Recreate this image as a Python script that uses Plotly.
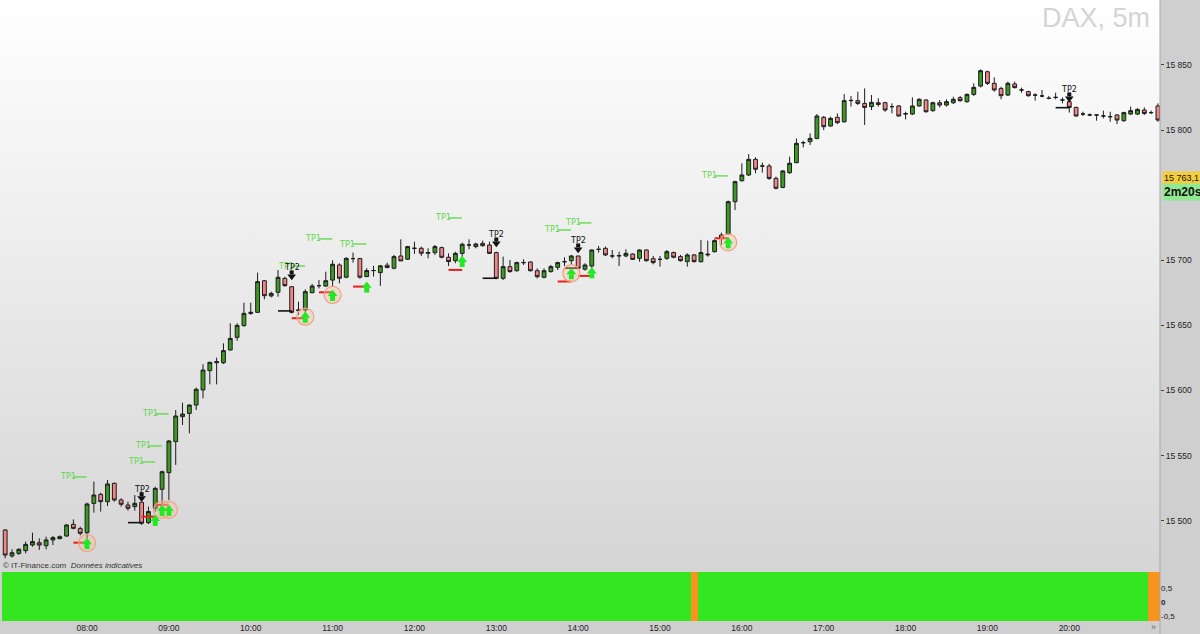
import base64
import plotly.graph_objects as go

# ---------------- data ----------------
opens = [15492.8, 15472.9, 15474.9, 15477.0, 15481.3, 15483.1, 15480.8, 15485.2, 15486.2, 15488.2,
         15497.2, 15493.9, 15490.8, 15513.3, 15520.2, 15514.6, 15528.7, 15515.9, 15512.0, 15510.8,
         15514.1, 15498.5, 15509.5, 15524.1, 15536.9, 15560.7, 15579.9, 15582.4, 15588.8, 15600.4,
         15615.2, 15621.3, 15621.3, 15631.1, 15640.8, 15649.8, 15659.2, 15660.0, 15684.3, 15672.6,
         15675.4, 15686.1, 15679.7, 15661.3, 15661.8, 15675.1, 15680.5, 15680.2, 15684.8, 15696.4,
         15687.0, 15701.3, 15701.3, 15687.5, 15692.1, 15690.5, 15696.2, 15693.9, 15703.3, 15700.8,
         15709.2, 15709.2, 15705.4, 15705.9, 15709.7, 15702.3, 15699.7, 15705.3, 15711.7, 15710.5,
         15713.0, 15711.7, 15705.9, 15686.1, 15695.1, 15692.0, 15698.2, 15698.7, 15692.0, 15686.9,
         15691.3, 15694.6, 15698.9, 15699.7, 15703.3, 15693.1, 15695.6, 15708.4, 15709.2, 15703.3,
         15703.3, 15703.3, 15704.8, 15701.5, 15707.9, 15701.2, 15700.7, 15701.5, 15705.9, 15702.8,
         15699.0, 15704.1, 15698.9, 15704.1, 15706.6, 15719.4, 15720.2, 15745.0, 15761.1, 15765.5,
         15777.5, 15772.4, 15772.4, 15762.9, 15756.0, 15767.3, 15775.0, 15790.3, 15791.1, 15793.6,
         15809.8, 15803.1, 15809.8, 15806.4, 15822.6, 15822.6, 15820.5, 15818.0, 15821.0, 15821.0,
         15818.0, 15818.5, 15812.3, 15812.3, 15818.5, 15823.1, 15814.9, 15821.0, 15819.2, 15821.0,
         15824.9, 15821.8, 15827.4, 15833.8, 15844.8, 15835.9, 15832.0, 15826.9, 15835.4, 15830.8,
         15829.5, 15826.9, 15826.2, 15824.4, 15825.1, 15823.1, 15821.8, 15817.4, 15812.3, 15811.6,
         15811.6, 15810.8, 15810.3, 15811.6, 15807.2, 15812.3, 15812.3, 15815.4, 15813.4, 15818.5]

highs = [15493.5, 15478.0, 15478.8, 15483.9, 15490.8, 15486.4, 15487.7, 15488.2, 15488.7, 15497.2,
         15501.0, 15495.4, 15513.8, 15530.0, 15521.5, 15531.2, 15529.2, 15517.2, 15514.6, 15519.7,
         15514.1, 15510.8, 15526.1, 15538.4, 15562.0, 15585.0, 15590.6, 15589.4, 15602.2, 15620.1,
         15622.1, 15625.2, 15636.2, 15651.6, 15651.6, 15667.4, 15667.4, 15690.5, 15684.8, 15675.9,
         15692.5, 15687.4, 15680.2, 15668.2, 15677.7, 15681.8, 15684.8, 15691.2, 15700.0, 15697.7,
         15702.3, 15705.9, 15701.8, 15693.9, 15695.7, 15696.4, 15698.2, 15704.1, 15716.1, 15711.0,
         15714.3, 15710.5, 15709.2, 15711.7, 15710.5, 15705.3, 15706.6, 15713.5, 15716.1, 15713.5,
         15715.1, 15714.3, 15706.6, 15702.8, 15700.2, 15699.0, 15700.7, 15699.0, 15693.8, 15693.8,
         15696.4, 15698.9, 15702.3, 15704.1, 15703.3, 15697.7, 15708.4, 15711.0, 15710.5, 15707.9,
         15706.6, 15708.4, 15705.3, 15708.4, 15708.4, 15703.3, 15703.3, 15707.9, 15706.6, 15704.1,
         15705.3, 15704.8, 15715.6, 15715.1, 15716.1, 15721.2, 15745.8, 15761.1, 15774.5, 15781.6,
         15779.1, 15775.0, 15774.0, 15764.2, 15769.3, 15779.6, 15793.6, 15791.8, 15797.5, 15812.3,
         15810.8, 15810.3, 15812.8, 15827.7, 15826.2, 15829.5, 15832.0, 15826.9, 15824.4, 15821.8,
         15820.5, 15819.2, 15814.1, 15825.1, 15824.4, 15823.6, 15821.8, 15823.1, 15823.6, 15825.6,
         15826.2, 15828.2, 15835.9, 15846.6, 15845.6, 15840.5, 15833.3, 15837.2, 15837.2, 15832.6,
         15830.2, 15828.2, 15830.8, 15826.2, 15828.7, 15825.1, 15823.6, 15817.9, 15814.1, 15812.8,
         15812.3, 15814.9, 15814.1, 15812.3, 15814.1, 15818.0, 15816.7, 15817.4, 15814.9, 15820.5]

lows = [15471.1, 15471.6, 15473.6, 15474.9, 15480.0, 15477.5, 15478.0, 15481.3, 15485.7, 15487.7,
        15493.4, 15488.7, 15486.4, 15506.2, 15507.0, 15511.3, 15514.6, 15510.8, 15507.7, 15507.7,
        15496.7, 15497.4, 15506.9, 15509.5, 15515.9, 15542.8, 15573.5, 15567.1, 15585.0, 15594.0,
        15604.7, 15604.7, 15620.3, 15630.6, 15638.2, 15649.0, 15658.0, 15659.7, 15670.0, 15671.5,
        15672.0, 15679.7, 15659.2, 15658.0, 15659.2, 15674.6, 15678.4, 15679.7, 15679.7, 15682.3,
        15686.2, 15698.2, 15685.9, 15687.0, 15687.5, 15680.3, 15693.9, 15693.1, 15699.5, 15700.3,
        15704.9, 15703.3, 15701.5, 15704.1, 15701.5, 15695.6, 15697.7, 15696.4, 15708.4, 15709.2,
        15710.5, 15704.8, 15685.4, 15684.9, 15690.5, 15691.3, 15696.4, 15691.3, 15686.1, 15686.1,
        15690.5, 15692.5, 15695.6, 15696.4, 15693.1, 15692.0, 15693.8, 15705.9, 15703.3, 15701.5,
        15695.6, 15702.3, 15700.2, 15698.9, 15698.9, 15696.9, 15695.1, 15700.2, 15701.5, 15698.9,
        15695.1, 15698.2, 15698.4, 15702.8, 15705.9, 15711.7, 15719.4, 15738.6, 15760.4, 15764.7,
        15766.8, 15767.3, 15761.7, 15754.5, 15755.3, 15766.3, 15774.4, 15786.7, 15788.5, 15792.9,
        15800.0, 15802.6, 15804.6, 15805.7, 15818.0, 15819.2, 15803.9, 15815.4, 15818.0, 15814.1,
        15812.8, 15810.3, 15808.2, 15811.6, 15818.0, 15813.4, 15814.1, 15817.4, 15818.0, 15820.0,
        15821.8, 15821.0, 15826.2, 15832.8, 15834.6, 15829.5, 15823.6, 15826.2, 15832.0, 15828.7,
        15825.6, 15822.6, 15825.1, 15823.6, 15823.6, 15820.5, 15813.4, 15810.3, 15810.8, 15810.8,
        15807.2, 15809.0, 15806.4, 15804.6, 15806.4, 15811.6, 15811.6, 15811.6, 15812.3, 15806.4]

closes = [15473.6, 15475.4, 15478.0, 15481.8, 15483.9, 15481.3, 15485.2, 15487.0, 15487.7, 15496.7,
          15494.1, 15490.3, 15512.8, 15519.7, 15514.6, 15528.2, 15515.9, 15512.6, 15509.5, 15513.3,
          15498.0, 15507.0, 15524.8, 15537.6, 15561.2, 15580.4, 15581.9, 15588.8, 15600.9, 15615.7,
          15621.6, 15622.1, 15630.6, 15640.0, 15650.0, 15659.2, 15660.0, 15683.6, 15672.8, 15674.6,
          15686.9, 15680.5, 15660.0, 15661.8, 15675.9, 15680.2, 15680.5, 15684.3, 15696.9, 15686.2,
          15701.5, 15701.3, 15687.0, 15692.1, 15692.1, 15695.7, 15694.4, 15702.8, 15699.5, 15710.5,
          15709.2, 15705.4, 15705.9, 15710.5, 15702.3, 15699.0, 15705.3, 15712.3, 15711.7, 15712.5,
          15711.2, 15705.3, 15686.1, 15695.1, 15691.3, 15698.2, 15698.2, 15692.0, 15687.4, 15692.0,
          15695.1, 15698.2, 15698.9, 15703.3, 15693.8, 15696.4, 15707.9, 15708.4, 15704.1, 15703.3,
          15703.6, 15705.3, 15700.7, 15707.9, 15699.7, 15698.2, 15700.7, 15706.6, 15702.3, 15699.7,
          15704.1, 15699.0, 15705.9, 15704.6, 15715.1, 15716.9, 15745.0, 15760.4, 15765.5, 15777.5,
          15769.9, 15772.4, 15762.9, 15755.3, 15768.6, 15774.5, 15789.8, 15790.3, 15793.6, 15810.8,
          15802.6, 15809.0, 15805.7, 15822.6, 15822.8, 15820.5, 15817.4, 15821.3, 15819.7, 15815.4,
          15818.0, 15810.8, 15812.6, 15818.5, 15823.6, 15814.1, 15821.0, 15819.2, 15821.8, 15823.6,
          15822.6, 15827.4, 15832.8, 15845.6, 15835.9, 15830.8, 15826.4, 15835.9, 15832.6, 15830.8,
          15826.4, 15826.9, 15826.2, 15824.4, 15825.1, 15823.1, 15817.4, 15810.8, 15812.3, 15811.6,
          15811.6, 15810.8, 15810.3, 15807.7, 15813.4, 15814.9, 15815.9, 15812.8, 15813.4, 15807.7]

hour_idx = [12, 24, 36, 48, 60, 72, 84, 96, 108, 120, 132, 144, 156]
hour_labels = ["08:00", "09:00", "10:00", "11:00", "12:00", "13:00", "14:00",
               "15:00", "16:00", "17:00", "18:00", "19:00", "20:00"]
# 15 750 is hidden behind the timer label in the reference
price_ticks = [15500, 15550, 15600, 15650, 15700, 15800, 15850]
price_tick_labels = ["15 500", "15 550", "15 600", "15 650", "15 700", "15 800", "15 850"]

tp1_idx = [8, 18, 19, 20, 40, 44, 49, 63, 79, 82, 102]
tp1_price = [15533.6, 15545.1, 15557.4, 15582.0, 15695.6, 15716.4, 15712.5, 15732.5, 15723.3, 15728.7, 15764.8]

tp2_idx = [20, 42, 72, 84, 156]
tp2_price = [15514.6, 15684.9, 15710.2, 15705.6, 15821.6]
tp2_base_price = [15498.5, 15661.1, 15686.2, 15694.0, 15817.2]

buy_idx = [12, 22, 23, 24, 44, 48, 53, 67, 83, 86, 106]
buy_price = [15486.7, 15504.4, 15512.1, 15512.1, 15660.5, 15677.2, 15683.6, 15703.3, 15693.9, 15694.6, 15717.6]
stop_idx = [12, 22, 24, 44, 48, 53, 67, 83, 86, 106]
stop_price = [15483.1, 15503.1, 15512.1, 15655.5, 15675.4, 15679.8, 15692.6, 15683.7, 15688.0, 15716.9]
circled_idx = [12, 23, 24, 44, 48, 83, 106]

orange_idx = [101, 168, 169]
last_price = 15763.1
timer_text = "2m20s"

# ---------------- geometry ----------------
n = len(opens)
idx = list(range(n))
Y_MIN, Y_MAX = 15469.8, 15899.9
MAIN_PX = 560.0
ppx = (Y_MAX - Y_MIN) / MAIN_PX  # price per pixel
plot_h = 621.0

fig = go.Figure()

# smooth vertical gradient (white -> light grey) behind the main panel
svg = ('<svg xmlns="http://www.w3.org/2000/svg" width="100" height="572" preserveAspectRatio="none">'
       '<defs><linearGradient id="g" x1="0" y1="0" x2="0" y2="1">'
       '<stop offset="0" stop-color="#ffffff"/><stop offset="1" stop-color="#d5d5d5"/>'
       '</linearGradient></defs><rect x="0" y="0" width="100" height="572" fill="url(#g)"/></svg>')
svg_uri = "data:image/svg+xml;base64," + base64.b64encode(svg.encode()).decode()
fig.add_layout_image(dict(source=svg_uri, xref="paper", yref="paper", x=0, y=1,
                          sizex=1, sizey=572.0 / plot_h, sizing="stretch",
                          xanchor="left", yanchor="top", layer="below"))

# bottom panel
colors = ["#f7941d" if i in orange_idx else "#34e61f" for i in idx]
fig.add_trace(go.Bar(x=idx, y=[2.4] * n, base=-1.2, marker=dict(color=colors, line=dict(width=0)),
                     width=1.0, xaxis="x", yaxis="y2", hoverinfo="skip", showlegend=False))

# candles
fig.add_trace(go.Candlestick(
    x=idx, open=opens, high=highs, low=lows, close=closes,
    increasing=dict(fillcolor="#3c9a22", line=dict(color="#1c1c1c", width=1)),
    decreasing=dict(fillcolor="#f28585", line=dict(color="#1c1c1c", width=1)),
    xaxis="x", yaxis="y", hoverinfo="skip", showlegend=False))

# TP1 short lines
lx, ly = [], []
for i, p in zip(tp1_idx, tp1_price):
    lx += [i + 2.0, i + 3.95, None]
    ly += [p, p, None]
fig.add_trace(go.Scatter(x=lx, y=ly, mode="lines", line=dict(color="#6cdc55", width=1.5),
                         hoverinfo="skip", showlegend=False))

# black lines before TP2
bx, by = [], []
for i, p in zip(tp2_idx, tp2_base_price):
    bx += [i - 2.0, i, None]
    by += [p, p, None]
fig.add_trace(go.Scatter(x=bx, y=by, mode="lines", line=dict(color="#111111", width=1.6),
                         hoverinfo="skip", showlegend=False))

# red stop lines
rx, ry = [], []
for i, p in zip(stop_idx, stop_price):
    rx += [i - 2.0, i, None]
    ry += [p, p, None]
fig.add_trace(go.Scatter(x=rx, y=ry, mode="lines", line=dict(color="#e3201b", width=2),
                         hoverinfo="skip", showlegend=False))

# orange circles
bmap = dict(zip(buy_idx, buy_price))
fig.add_trace(go.Scatter(x=circled_idx, y=[bmap[i] - 5 * ppx for i in circled_idx], mode="markers",
                         marker=dict(symbol="circle", size=17, color="rgba(250,190,160,0.35)",
                                     line=dict(color="#f3a07a", width=1.2)),
                         hoverinfo="skip", showlegend=False))

# green up arrows (head + stem)
fig.add_trace(go.Scatter(x=buy_idx, y=[p - 4.0 * ppx for p in buy_price], mode="markers",
                         marker=dict(symbol="triangle-up", size=8.5, color="#22e822", line=dict(width=0)),
                         hoverinfo="skip", showlegend=False))
fig.add_trace(go.Scatter(x=buy_idx, y=[p - 8.5 * ppx for p in buy_price], mode="markers",
                         marker=dict(symbol="square", size=5, color="#22e822", line=dict(width=0)),
                         hoverinfo="skip", showlegend=False))

# black TP2 down arrows
fig.add_trace(go.Scatter(x=tp2_idx, y=[p + 3.5 * ppx for p in tp2_price], mode="markers",
                         marker=dict(symbol="triangle-down", size=7.5, color="#111111", line=dict(width=0)),
                         hoverinfo="skip", showlegend=False))
fig.add_trace(go.Scatter(x=tp2_idx, y=[p + 7.5 * ppx for p in tp2_price], mode="markers",
                         marker=dict(symbol="square", size=4, color="#111111", line=dict(width=0)),
                         hoverinfo="skip", showlegend=False))

annotations = []
for i, p in zip(tp1_idx, tp1_price):
    annotations.append(dict(x=i, y=p, xref="x", yref="y", text="TP1", showarrow=False,
                            xanchor="left", yanchor="middle", xshift=-2,
                            font=dict(family="DejaVu Sans", size=8, color="#5ed948")))
for i, p in zip(tp2_idx, tp2_price):
    annotations.append(dict(x=i, y=p, xref="x", yref="y", text="TP2", showarrow=False,
                            xanchor="center", yanchor="middle", yshift=12,
                            font=dict(family="DejaVu Sans", size=8, color="#111111")))

annotations += [
    dict(x=0.993, y=(plot_h - 18) / plot_h, xref="paper", yref="paper", text="DAX, 5m",
         showarrow=False, xanchor="right", yanchor="middle",
         font=dict(family="Liberation Sans, Arial", size=27, color="#d4d4d4")),
    dict(x=0.001, y=(plot_h - 565.5) / plot_h, xref="paper", yref="paper",
         text="© IT-Finance.com  <i>Données indicatives</i>", showarrow=False,
         xanchor="left", yanchor="middle",
         font=dict(family="Liberation Sans, Arial", size=8, color="#333333")),
    dict(x=1162.0 / 1160.0, y=last_price, xref="paper", yref="y",
         text="15 763,1", showarrow=False, xanchor="left", yanchor="middle",
         bgcolor="#f5cd3c", borderpad=1,
         font=dict(family="Liberation Sans, Arial", size=9, color="#111111")),
    dict(x=1162.0 / 1160.0, y=last_price, xref="paper", yref="y", yshift=-14,
         text="<b>" + timer_text + "</b>", showarrow=False, xanchor="left", yanchor="middle",
         bgcolor="#93e893", borderpad=1,
         font=dict(family="Liberation Sans, Arial", size=12, color="#111111")),
    dict(x=1153.0 / 1160.0, y=(plot_h - 627) / plot_h, xref="paper", yref="paper",
         text="»", showarrow=False, xanchor="center", yanchor="middle",
         font=dict(family="Liberation Sans, Arial", size=9, color="#666666")),
]

fig.add_shape(type="line", xref="paper", yref="paper", x0=1, x1=1, y0=-0.03, y1=1,
              line=dict(color="#a8a8a8", width=1))

fig.update_layout(
    width=1200, height=634, autosize=False,
    margin=dict(l=0, r=40, t=0, b=13),
    paper_bgcolor="#cfcfcf", plot_bgcolor="rgba(0,0,0,0)",
    showlegend=False, bargap=0, boxgap=0.2,
    annotations=annotations,
    xaxis=dict(domain=[0, 1], anchor="y2", range=[-0.76, 169.3],
               tickmode="array", tickvals=hour_idx, ticktext=hour_labels,
               showgrid=False, zeroline=False, showline=False, ticks="",
               tickfont=dict(family="Liberation Sans, Arial", size=8.5, color="#222222"),
               rangeslider=dict(visible=False), fixedrange=True),
    yaxis=dict(domain=[(plot_h - 560) / plot_h, 1], anchor="x", side="right",
               range=[Y_MIN, Y_MAX], tickmode="array", tickvals=price_ticks,
               ticktext=price_tick_labels, showgrid=False, zeroline=False, showline=False,
               ticks="outside", ticklen=3, tickcolor="#444444",
               tickfont=dict(family="Liberation Sans, Arial", size=8.5, color="#222222"),
               fixedrange=True),
    yaxis2=dict(domain=[0, 49.0 / plot_h], anchor="x", side="right",
                range=[-0.68, 1.07], tickmode="array", tickvals=[0.5, 0, -0.5],
                ticktext=["0,5", "<b>0</b>", "-0,5"], showgrid=False, zeroline=False,
                showline=False, ticks="",
                tickfont=dict(family="Liberation Sans, Arial", size=8, color="#222222"),
                fixedrange=True),
)

fig.write_html("out.html", config={"displayModeBar": False},
               post_script="document.body.style.margin='0';document.body.style.padding='0';"
                           "document.documentElement.style.overflow='hidden';")
